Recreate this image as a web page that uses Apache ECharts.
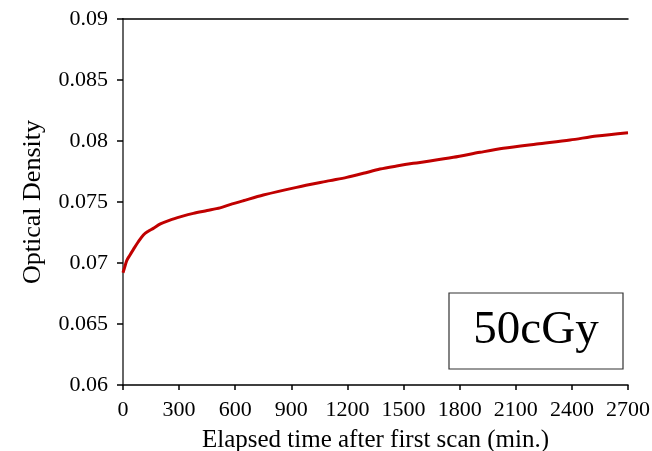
<!DOCTYPE html>
<html>
<head>
<meta charset="utf-8">
<script src="https://cdn.jsdelivr.net/npm/echarts@6/dist/echarts.min.js"></script>
<style>html,body{margin:0;padding:0;background:#fff}#c{width:652px;height:451px}</style>
</head>
<body>
<div id="c"></div>
<script>
const xTicks = [0, 300, 600, 900, 1200, 1500, 1800, 2100, 2400, 2700];
const yTicks = [0.06, 0.065, 0.07, 0.075, 0.08, 0.085, 0.09];
const timeMin = [0, 10, 20, 35, 55, 80, 109, 135, 162, 200, 251, 310, 376, 450, 519, 572, 643, 750, 928, 1107, 1196, 1285, 1374, 1463, 1552, 1641, 1766, 1909, 2033, 2212, 2390, 2533, 2700];
const opticalDensity = [0.0692, 0.0697, 0.0702, 0.0706, 0.0711, 0.0717, 0.0723, 0.0726, 0.07284, 0.0732, 0.07352, 0.0738, 0.07407, 0.0743, 0.07452, 0.07478, 0.0751, 0.07557, 0.0762, 0.07675, 0.07702, 0.07735, 0.0777, 0.07795, 0.07817, 0.07836, 0.07866, 0.07907, 0.0794, 0.07975, 0.08008, 0.08041, 0.08068];
const seriesLabel = '50cGy';
const xTitle = 'Elapsed time after first scan (min.)';
const yTitle = 'Optical Density';

const data = timeMin.map((t, i) => [t, opticalDensity[i]]);
const font = 'Liberation Serif';
const chart = echarts.init(document.getElementById('c'));
chart.setOption({
  backgroundColor: '#fff',
  animation: false,
  grid: {left: 123, right: 24, top: 19, bottom: 66, containLabel: false, outerBoundsMode: 'none'},
  xAxis: [{
    type: 'value', min: 0, max: 2700, interval: 300,
    name: xTitle, nameLocation: 'middle', nameGap: 43,
    nameTextStyle: {fontFamily: font, fontSize: 25, color: '#000'},
    axisLine: {show: true, onZero: false, lineStyle: {color: '#000', width: 1.5}},
    axisTick: {show: true, inside: false, length: 5, lineStyle: {color: '#000', width: 1.5}},
    axisLabel: {fontFamily: font, fontSize: 22, color: '#000', margin: 14,
      formatter: v => xTicks.includes(v) ? String(v) : ''},
    splitLine: {show: false}
  }, {
    type: 'value', position: 'top', min: 0, max: 2700,
    axisLine: {show: true, lineStyle: {color: '#000', width: 1.5}},
    axisTick: {show: false}, axisLabel: {show: false}, splitLine: {show: false}
  }],
  yAxis: [{
    type: 'value', min: 0.06, max: 0.09, interval: 0.005,
    name: yTitle, nameLocation: 'middle', nameGap: 77,
    nameTextStyle: {fontFamily: font, fontSize: 26, color: '#000'},
    axisLine: {show: true, onZero: false, lineStyle: {color: '#000', width: 1.5}},
    axisTick: {show: true, inside: false, length: 6, lineStyle: {color: '#000', width: 1.5}},
    axisLabel: {fontFamily: font, fontSize: 22, color: '#000', margin: 15,
      formatter: v => { const r = Math.round(v * 1000) / 1000; return yTicks.some(t => Math.abs(t - r) < 1e-9) ? String(r) : ''; }},
    splitLine: {show: false}
  }, {
    type: 'value', position: 'right', min: 0.06, max: 0.09,
    axisLine: {show: true, lineStyle: {color: '#666', width: 2}},
    axisTick: {show: false}, axisLabel: {show: false}, splitLine: {show: false}
  }],
  graphic: [
    {type: 'rect', shape: {x: 449, y: 293, width: 174, height: 76}, style: {fill: '#fff', stroke: '#333', lineWidth: 1.2}, z: 10},
    {type: 'text', x: 536, y: 331, style: {text: seriesLabel, fontFamily: font, fontSize: 47, fill: '#000', align: 'center', verticalAlign: 'middle'}, z: 11}
  ],
  series: [{
    type: 'line', data: data, showSymbol: false, smooth: 0.3,
    lineStyle: {color: '#C00000', width: 3},
    z: 3
  }]
});
</script>
</body>
</html>
